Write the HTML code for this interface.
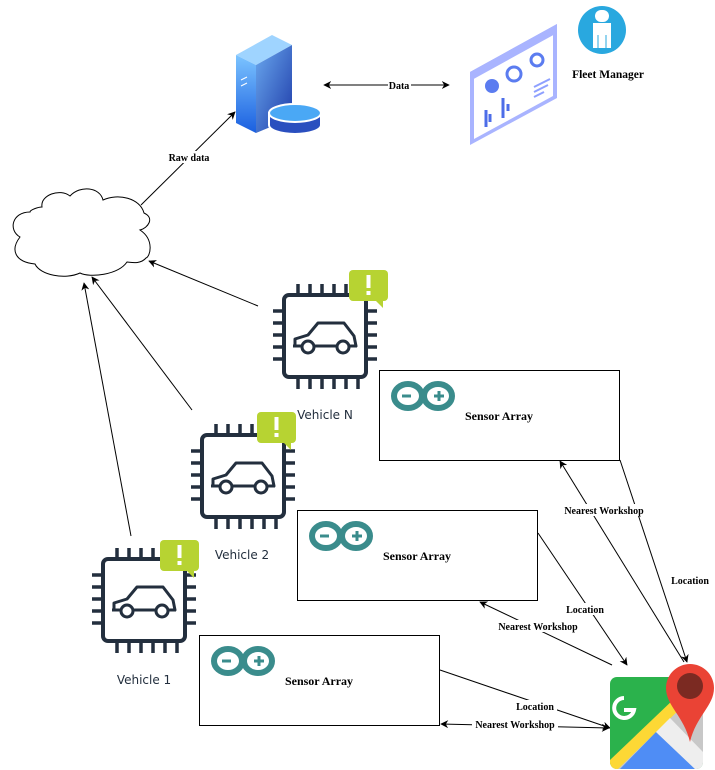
<!DOCTYPE html>
<html><head><meta charset="utf-8"><style>
html,body{margin:0;padding:0;background:#fff;}
svg{display:block;}
.lb{font-family:"Liberation Serif",serif;font-weight:bold;font-size:10px;fill:#000;}
.vl{font-family:"DejaVu Sans","Liberation Sans",sans-serif;font-size:12px;fill:#232f3e;}
.sa{font-family:"Liberation Serif",serif;font-weight:bold;font-size:12px;fill:#000;}
</style></head><body>
<svg width="715" height="770" viewBox="0 0 715 770" xmlns="http://www.w3.org/2000/svg">
<defs>
<marker id="ar" viewBox="0 0 10 10" refX="9" refY="5" markerWidth="8" markerHeight="8" orient="auto-start-reverse" markerUnits="userSpaceOnUse">
<path d="M0,0 L10,5 L0,10 L3,5 z" fill="#000"/></marker>
<linearGradient id="srv" x1="0" y1="0" x2="0" y2="1"><stop offset="0" stop-color="#7cc4ff"/><stop offset="1" stop-color="#1a5fe0"/></linearGradient>
<linearGradient id="srv2" x1="0" y1="0" x2="1" y2="1"><stop offset="0" stop-color="#6aa8ee"/><stop offset="1" stop-color="#1d3aa8"/></linearGradient>
<g id="chip">
<rect x="0" y="0" width="82" height="82" rx="5" fill="#fff" stroke="#232f3e" stroke-width="4"/>
<g stroke="#232f3e" stroke-width="3.5">
<path d="M14,-11V-2M26,-11V-2M38,-11V-2M50,-11V-2M62,-11V-2M74,-11V-2"/>
<path d="M14,84V94M26,84V94M38,84V94M50,84V94M62,84V94M74,84V94"/>
<path d="M-11,16H-2M-11,28H-2M-11,40H-2M-11,52H-2M-11,64H-2"/>
<path d="M84,16H93M84,28H93M84,40H93M84,52H93M84,64H93"/>
</g>
<path d="M11,51 L11,44 L24,40 L34,28 L60,28 L70,41 L72,51 Z" fill="none" stroke="#232f3e" stroke-width="3" stroke-linejoin="round"/>
<path d="M9,51 H73" stroke="#232f3e" stroke-width="3"/>
<circle cx="24" cy="52" r="6" fill="#fff" stroke="#232f3e" stroke-width="3"/>
<circle cx="59" cy="52" r="6" fill="#fff" stroke="#232f3e" stroke-width="3"/>
</g>
<g id="badge">
<rect x="0" y="0" width="39" height="31" rx="4" fill="#b7d332"/>
<path d="M26,30 L34,38 L34,30Z" fill="#b7d332"/>
<rect x="17.5" y="5" width="4" height="13" fill="#fff"/>
<rect x="17.5" y="21" width="4" height="4" fill="#fff"/>
</g>
<g id="ard">
<ellipse cx="18" cy="16" rx="14" ry="12" fill="none" stroke="#3a8c8c" stroke-width="6"/>
<ellipse cx="48" cy="16" rx="14" ry="12" fill="none" stroke="#3a8c8c" stroke-width="6"/>
<path d="M12,16H21M44,16H54M49,11V21" stroke="#3a8c8c" stroke-width="3"/>
</g>
</defs>

<path d="M236,55 L272,35 L292,45 L256,65Z" fill="#9fd4ff"/>
<path d="M236,55 L256,65 L256,133 L236,123Z" fill="url(#srv)"/>
<path d="M256,65 L292,45 L292,118 L256,133Z" fill="url(#srv2)"/>
<path d="M241,80 l6,-3 M241,86 l6,-3" stroke="#fff" stroke-width="1"/>
<path d="M269,113 v12 a26,9 0 0 0 52,0 v-12z" fill="#2a4fbf" stroke="#fff" stroke-width="2"/>
<ellipse cx="295" cy="113" rx="26" ry="9" fill="#4aa8f5" stroke="#fff" stroke-width="2"/>

<line x1="324" y1="85" x2="449" y2="85" stroke="#000" marker-start="url(#ar)" marker-end="url(#ar)"/>
<rect x="388" y="79" width="23" height="12" fill="#fff"/>
<text class="lb" x="399" y="89" text-anchor="middle">Data</text>

<path d="M470,72 L557,24 L557,98 L470,145Z" fill="#a9b4ff"/>
<path d="M474,76 L553,33 L553,96 L474,139Z" fill="#fff"/>
<path d="M470,72 L557,24 L557,33 L470,81Z" fill="#a9b4ff"/>
<circle cx="492" cy="86" r="7" fill="#5b7cf0"/>
<circle cx="514" cy="74" r="7" fill="none" stroke="#5b7cf0" stroke-width="3"/>
<circle cx="537" cy="60" r="6" fill="none" stroke="#5b7cf0" stroke-width="3"/>
<path d="M486,127 V110 M490,122 V114 M503,118 V98 M508,111 V104" stroke="#4d6de8" stroke-width="3"/>
<path d="M534,87 l16,-8 M534,92 l14,-7 M534,97 l10,-5" stroke="#8ea0ff" stroke-width="2"/>

<circle cx="602" cy="30" r="24" fill="#29a8df"/>
<rect x="595" y="10" width="14" height="12" rx="6" fill="#fff"/>
<path d="M593,23 h18 v25 h-18z" fill="#fff"/>
<path d="M598,35 v13 M606,35 v13" stroke="#29a8df" stroke-width="1"/>
<text class="lb" x="608" y="78" text-anchor="middle" style="font-size:11.5px">Fleet Manager</text>

<line x1="141" y1="205" x2="235" y2="112" stroke="#000" marker-end="url(#ar)"/>
<rect x="166" y="151" width="46" height="12" fill="#fff"/>
<text class="lb" x="189" y="161" text-anchor="middle">Raw data</text>

<path d="M42,207 C40,195 60,188 70,196 C80,185 100,187 103,200 C118,193 140,198 144,213 C155,218 148,228 140,230 C155,240 150,257 146,258 C140,265 130,262 127,262 C118,275 90,278 80,273 C65,280 40,275 35,264 C15,262 10,250 20,237 C8,230 12,212 30,212 C30,210 38,207 42,207Z" fill="#fff" stroke="#000" stroke-width="1"/>

<line x1="258" y1="306" x2="149" y2="261" stroke="#000" marker-end="url(#ar)"/>
<line x1="192" y1="410" x2="92" y2="277" stroke="#000" marker-end="url(#ar)"/>
<line x1="131" y1="536" x2="84" y2="283" stroke="#000" marker-end="url(#ar)"/>

<use href="#chip" x="284" y="295"/>
<use href="#badge" x="349" y="270"/>
<text class="vl" x="325" y="419" text-anchor="middle">Vehicle N</text>
<use href="#chip" x="202" y="435"/>
<use href="#badge" x="257" y="412"/>
<text class="vl" x="242" y="559" text-anchor="middle">Vehicle 2</text>
<use href="#chip" x="103" y="559"/>
<use href="#badge" x="160" y="540"/>
<text class="vl" x="144" y="684" text-anchor="middle">Vehicle 1</text>

<rect x="379.5" y="370.5" width="240" height="90" fill="#fff" stroke="#000"/>
<use href="#ard" x="390" y="380"/>
<text class="sa" x="499" y="420" text-anchor="middle">Sensor Array</text>
<rect x="297.5" y="510.5" width="240" height="90" fill="#fff" stroke="#000"/>
<use href="#ard" x="308" y="520"/>
<text class="sa" x="417" y="560" text-anchor="middle">Sensor Array</text>
<rect x="199.5" y="635.5" width="240" height="90" fill="#fff" stroke="#000"/>
<use href="#ard" x="210" y="645"/>
<text class="sa" x="319" y="685" text-anchor="middle">Sensor Array</text>

<line x1="620" y1="460" x2="687" y2="662" stroke="#000" marker-end="url(#ar)"/>
<line x1="684" y1="662" x2="560" y2="461" stroke="#000" marker-end="url(#ar)"/>
<line x1="538" y1="533" x2="627" y2="665" stroke="#000" marker-end="url(#ar)"/>
<line x1="612" y1="665" x2="480" y2="602" stroke="#000" marker-end="url(#ar)"/>
<line x1="440" y1="670" x2="610" y2="728" stroke="#000" marker-end="url(#ar)"/>
<line x1="609" y1="728" x2="441" y2="724" stroke="#000" marker-start="url(#ar)" marker-end="url(#ar)"/>

<rect x="668" y="574" width="44" height="12" fill="#fff"/>
<text class="lb" x="690" y="584" text-anchor="middle">Location</text>
<rect x="546" y="504" width="116" height="12" fill="#fff"/>
<text class="lb" x="604" y="514" text-anchor="middle">Nearest Workshop</text>
<rect x="563" y="603" width="44" height="12" fill="#fff"/>
<text class="lb" x="585" y="613" text-anchor="middle">Location</text>
<rect x="494" y="620" width="88" height="12" fill="#fff"/>
<text class="lb" x="538" y="630" text-anchor="middle">Nearest Workshop</text>
<rect x="513" y="700" width="44" height="12" fill="#fff"/>
<text class="lb" x="535" y="710" text-anchor="middle">Location</text>
<rect x="472" y="718" width="86" height="12" fill="#fff"/>
<text class="lb" x="515" y="728" text-anchor="middle">Nearest Workshop</text>

<clipPath id="gm"><rect x="610" y="677" width="93" height="92" rx="7"/></clipPath>
<g clip-path="url(#gm)">
<rect x="610" y="677" width="93" height="92" fill="#2bb24c"/>
<path d="M610,769 L700,680 L703,680 L703,769Z" fill="#c8c8c8"/>
<path d="M610,760 L675,698 L683,706 L618,769 L610,769Z" fill="#fdd835"/>
<path d="M656,732 L695,769 L620,769Z" fill="#4f8df5"/>
<path d="M656,732 L670,718 L703,752 L703,769 L695,769Z" fill="#eee"/>
</g>
<path d="M624,698 a10,10 0 1 0 10,12 h-10" fill="none" stroke="#fff" stroke-width="4"/>
<path d="M666,688 a24,24 0 0 1 48,0 c0,18 -18,28 -24,54 c-6,-26 -24,-36 -24,-54z" fill="#ea4335"/>
<circle cx="690" cy="686" r="13" fill="#7b2a22"/>
</svg>
</body></html>
